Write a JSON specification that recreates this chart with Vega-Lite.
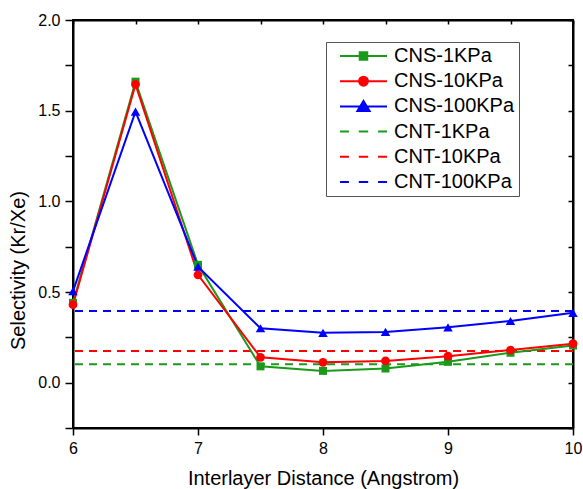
{
  "$schema": "https://vega.github.io/schema/vega-lite/v6.json",
  "width": 500,
  "height": 408,
  "autosize": {"type": "none"},
  "padding": {"left": 73, "top": 20, "right": 10, "bottom": 61},
  "background": "white",
  "datasets": {
    "cns": [
      {"series": "CNS-1KPa", "x": 6, "y": 0.44},
      {"series": "CNS-1KPa", "x": 6.5, "y": 1.66},
      {"series": "CNS-1KPa", "x": 7, "y": 0.65},
      {"series": "CNS-1KPa", "x": 7.5, "y": 0.09},
      {"series": "CNS-1KPa", "x": 8, "y": 0.065},
      {"series": "CNS-1KPa", "x": 8.5, "y": 0.078},
      {"series": "CNS-1KPa", "x": 9, "y": 0.115},
      {"series": "CNS-1KPa", "x": 9.5, "y": 0.165},
      {"series": "CNS-1KPa", "x": 10, "y": 0.205},
      {"series": "CNS-10KPa", "x": 6, "y": 0.43},
      {"series": "CNS-10KPa", "x": 6.5, "y": 1.645},
      {"series": "CNS-10KPa", "x": 7, "y": 0.595},
      {"series": "CNS-10KPa", "x": 7.5, "y": 0.14},
      {"series": "CNS-10KPa", "x": 8, "y": 0.112},
      {"series": "CNS-10KPa", "x": 8.5, "y": 0.12},
      {"series": "CNS-10KPa", "x": 9, "y": 0.146},
      {"series": "CNS-10KPa", "x": 9.5, "y": 0.18},
      {"series": "CNS-10KPa", "x": 10, "y": 0.215},
      {"series": "CNS-100KPa", "x": 6, "y": 0.505},
      {"series": "CNS-100KPa", "x": 6.5, "y": 1.495},
      {"series": "CNS-100KPa", "x": 7, "y": 0.64},
      {"series": "CNS-100KPa", "x": 7.5, "y": 0.3},
      {"series": "CNS-100KPa", "x": 8, "y": 0.275},
      {"series": "CNS-100KPa", "x": 8.5, "y": 0.28},
      {"series": "CNS-100KPa", "x": 9, "y": 0.305},
      {"series": "CNS-100KPa", "x": 9.5, "y": 0.34},
      {"series": "CNS-100KPa", "x": 10, "y": 0.385}
    ],
    "cnt": [
      {"series": "CNT-1KPa", "y": 0.102},
      {"series": "CNT-10KPa", "y": 0.175},
      {"series": "CNT-100KPa", "y": 0.395}
    ]
  },
  "config": {
    "font": "Liberation Sans",
    "view": {"stroke": "black", "strokeWidth": 2},
    "axis": {
      "grid": false,
      "domain": true,
      "ticks": true,
      "domainColor": "black",
      "domainWidth": 2,
      "tickColor": "black",
      "tickWidth": 1.5,
      "labelColor": "black",
      "titleColor": "black",
      "labelFont": "Liberation Sans",
      "titleFont": "Liberation Sans",
      "titleFontWeight": "normal",
      "labelFontSize": 16,
      "titleFontSize": 20,
      "labelFlush": false,
      "labelOverlap": false
    }
  },
  "resolve": {"axis": {"x": "independent", "y": "independent"}},
  "layer": [
    {
      "data": {"name": "cnt"},
      "mark": {"type": "rule", "strokeDash": [8, 6], "strokeWidth": 2},
      "encoding": {
        "y": {"field": "y", "type": "quantitative", "scale": {"domain": [-0.25, 2], "nice": false, "zero": false}, "axis": null},
        "color": {
          "field": "series",
          "type": "nominal",
          "scale": {
            "domain": ["CNS-1KPa", "CNS-10KPa", "CNS-100KPa", "CNT-1KPa", "CNT-10KPa", "CNT-100KPa"],
            "range": ["#1a9a1a", "#ff0000", "#0000ff", "#1a9a1a", "#ff0000", "#0000ff"]
          },
          "legend": {
            "title": null,
            "orient": "none",
            "legendX": 253,
            "legendY": 22,
            "padding": 4,
            "fillColor": "white",
            "strokeColor": "#555555",
            "symbolSize": 2209,
            "symbolStrokeWidth": 2,
            "symbolOffset": 9,
            "symbolType": "stroke",
            "labelOffset": 6,
            "clipHeight": 20,
            "rowPadding": 5.2,
            "labelFontSize": 20,
            "labelFont": "Liberation Sans",
            "labelColor": "black",
            "labelLimit": 300,
            "encode": {
              "symbols": {
                "update": {
                  "shape": {"signal": "datum.value === 'CNS-1KPa' ? 'M-1,0H1M-0.16,-0.16H0.16V0.16H-0.16Z' : datum.value === 'CNS-10KPa' ? 'M-1,0H1M-0.19,0A0.19,0.19,0,1,0,0.19,0A0.19,0.19,0,1,0,-0.19,0Z' : datum.value === 'CNS-100KPa' ? 'M-1,0H1M0,-0.23L0.26,0.2L-0.26,0.2Z' : 'M-1,0H-0.62M-0.2,0H0.2M0.62,0H1'"},
                  "fill": {"signal": "indexof(datum.value, 'CNS') === 0 ? scale('color', datum.value) : 'transparent'"},
                  "stroke": {"signal": "scale('color', datum.value)"},
                  "strokeDash": {"value": []},
                  "opacity": {"value": 1}
                }
              }
            }
          }
        }
      }
    },
    {
      "data": {"name": "cns"},
      "mark": {"type": "line", "strokeWidth": 2},
      "encoding": {
        "x": {
          "field": "x", "type": "quantitative",
          "scale": {"domain": [6, 10], "nice": false, "zero": false},
          "axis": {
            "orient": "bottom",
            "title": "Interlayer Distance (Angstrom)",
            "values": [6, 6.5, 7, 7.5, 8, 8.5, 9, 9.5, 10],
            "labelExpr": "datum.value % 1 === 0 ? datum.label : ''",
            "format": "d",
            "tickSize": 7,
            "encode": {"ticks": {"update": {"y2": {"signal": "datum.value % 1 === 0 ? 7 : 4"}}}},
            "labelPadding": 5,
            "titlePadding": 12
          }
        },
        "y": {
          "field": "y", "type": "quantitative",
          "scale": {"domain": [-0.25, 2], "nice": false, "zero": false},
          "axis": {
            "orient": "left",
            "title": "Selectivity (Kr/Xe)",
            "titleY": 250,
            "values": [-0.25, 0, 0.25, 0.5, 0.75, 1, 1.25, 1.5, 1.75, 2],
            "format": ".1f",
            "labelExpr": "datum.value % 0.5 === 0 ? datum.label : ''",
            "tickSize": 8,
            "encode": {"ticks": {"update": {"x2": {"signal": "datum.value % 0.5 === 0 ? -8 : -5"}}}},
            "labelPadding": 5,
            "titlePadding": 9
          }
        },
        "color": {"field": "series", "type": "nominal"}
      }
    },
    {
      "data": {"name": "cns"},
      "mark": {"type": "point", "filled": true, "opacity": 1},
      "encoding": {
        "x": {
          "field": "x", "type": "quantitative",
          "axis": {
            "orient": "top", "title": null, "labels": false,
            "values": [6, 6.5, 7, 7.5, 8, 8.5, 9, 9.5, 10],
            "tickSize": -4
          }
        },
        "y": {
          "field": "y", "type": "quantitative",
          "axis": {
            "orient": "right", "title": null, "labels": false,
            "values": [-0.25, 0, 0.25, 0.5, 0.75, 1, 1.25, 1.5, 1.75, 2],
            "tickSize": -5
          }
        },
        "color": {"field": "series", "type": "nominal"},
        "shape": {
          "field": "series", "type": "nominal",
          "scale": {"domain": ["CNS-1KPa", "CNS-10KPa", "CNS-100KPa"], "range": ["square", "circle", "triangle-up"]},
          "legend": null
        },
        "size": {
          "field": "series", "type": "nominal",
          "scale": {"domain": ["CNS-1KPa", "CNS-10KPa", "CNS-100KPa"], "range": [64, 90, 130]},
          "legend": null
        }
      }
    }
  ]
}
